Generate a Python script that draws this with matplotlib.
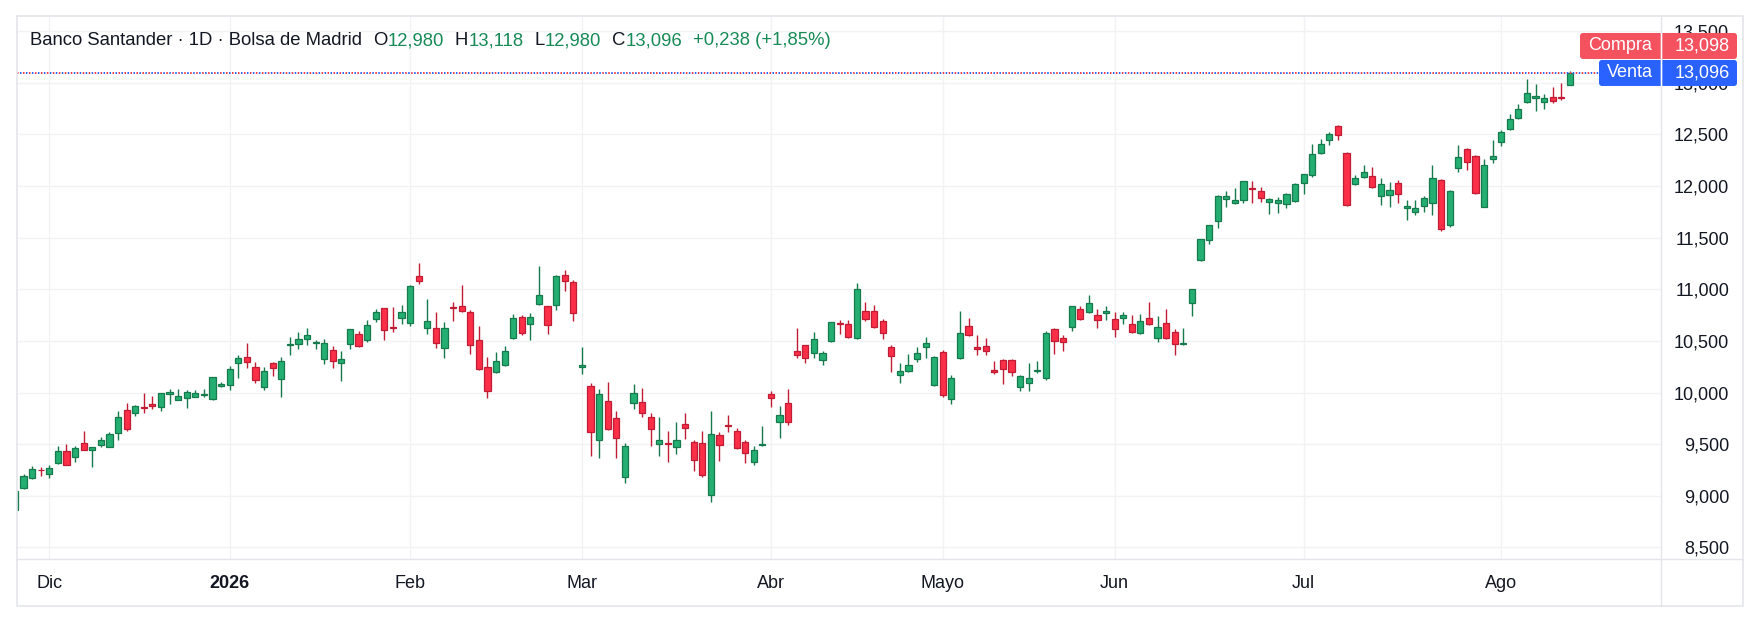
import matplotlib
matplotlib.use('Agg')
import matplotlib.pyplot as plt
from matplotlib.patches import FancyBboxPatch
import numpy as np

plt.rcParams['font.family'] = ['Liberation Sans', 'DejaVu Sans']
plt.rcParams['lines.scale_dashes'] = False

# ---------------- data (EUR, daily candles, 25 Nov 2025 -> 13 Aug 2026) ----------------
opens = [8.860, 9.078, 9.168, 9.252, 9.207, 9.320, 9.433, 9.378, 9.507, 9.440,
         9.494, 9.475, 9.604, 9.827, 9.805, 9.858, 9.885, 9.856, 9.982, 9.924,
         9.943, 9.953, 9.980, 9.934, 10.060, 10.070, 10.283, 10.341, 10.244, 10.050,
         10.282, 10.127, 10.457, 10.466, 10.515, 10.480, 10.321, 10.408, 10.282, 10.466,
         10.563, 10.505, 10.709, 10.815, 10.630, 10.718, 10.670, 11.125, 10.621, 10.621,
         10.428, 10.825, 10.835, 10.776, 10.505, 10.243, 10.195, 10.263, 10.524, 10.728,
         10.660, 10.854, 10.835, 10.844, 11.135, 11.067, 10.243, 10.059, 9.536, 9.914,
         9.749, 9.178, 9.895, 9.905, 9.760, 9.498, 9.510, 9.469, 9.692, 9.518,
         9.508, 9.004, 9.585, 9.683, 9.624, 9.518, 9.324, 9.495, 9.983, 9.711,
         9.895, 10.399, 10.457, 10.380, 10.312, 10.496, 10.669, 10.660, 10.525, 10.786,
         10.786, 10.689, 10.438, 10.166, 10.205, 10.321, 10.438, 10.069, 10.389, 9.934,
         10.331, 10.641, 10.438, 10.448, 10.215, 10.312, 10.312, 10.050, 10.089, 10.212,
         10.140, 10.612, 10.525, 10.631, 10.806, 10.777, 10.748, 10.767, 10.709, 10.719,
         10.661, 10.573, 10.719, 10.525, 10.670, 10.583, 10.474, 10.864, 11.281, 11.475,
         11.659, 11.872, 11.833, 11.862, 11.978, 11.949, 11.843, 11.833, 11.823, 11.852,
         12.027, 12.104, 12.318, 12.444, 12.579, 12.318, 12.017, 12.085, 12.095, 11.901,
         11.911, 12.027, 11.785, 11.746, 11.804, 11.833, 12.056, 11.620, 12.172, 12.356,
         12.288, 11.800, 12.259, 12.424, 12.550, 12.656, 12.811, 12.850, 12.811, 12.860,
         12.862, 12.980]
highs = [9.055, 9.210, 9.288, 9.275, 9.297, 9.482, 9.501, 9.482, 9.627, 9.470,
         9.569, 9.617, 9.821, 9.898, 9.879, 9.995, 9.966, 9.995, 10.031, 10.031,
         10.024, 10.024, 10.031, 10.150, 10.098, 10.257, 10.364, 10.480, 10.296, 10.243,
         10.292, 10.340, 10.537, 10.583, 10.625, 10.508, 10.518, 10.450, 10.402, 10.615,
         10.596, 10.702, 10.809, 10.818, 10.825, 10.844, 11.041, 11.251, 10.906, 10.776,
         10.680, 10.873, 11.038, 10.796, 10.644, 10.340, 10.389, 10.450, 10.757, 10.747,
         10.767, 11.222, 10.838, 11.135, 11.187, 11.087, 10.437, 10.088, 10.030, 10.098,
         9.817, 9.507, 10.083, 10.044, 9.799, 9.760, 9.624, 9.711, 9.799, 9.537,
         9.624, 9.818, 9.614, 9.779, 9.653, 9.537, 9.479, 9.673, 10.012, 9.866,
         10.031, 10.625, 10.460, 10.583, 10.399, 10.683, 10.702, 10.702, 11.058, 10.874,
         10.845, 10.709, 10.457, 10.282, 10.370, 10.438, 10.534, 10.350, 10.408, 10.166,
         10.786, 10.719, 10.554, 10.525, 10.302, 10.321, 10.321, 10.166, 10.282, 10.302,
         10.592, 10.622, 10.554, 10.838, 10.835, 10.942, 10.806, 10.835, 10.777, 10.777,
         10.748, 10.757, 10.874, 10.738, 10.806, 10.612, 10.622, 11.003, 11.487, 11.623,
         11.911, 11.949, 11.978, 12.049, 12.049, 11.991, 11.881, 11.891, 11.930, 12.027,
         12.117, 12.405, 12.453, 12.521, 12.589, 12.328, 12.104, 12.201, 12.182, 12.075,
         12.037, 12.056, 11.862, 11.862, 11.901, 12.201, 12.070, 11.960, 12.398, 12.366,
         12.298, 12.259, 12.443, 12.540, 12.695, 12.792, 13.034, 12.986, 12.889, 12.957,
         12.995, 13.118]
lows = [8.850, 9.068, 9.165, 9.194, 9.175, 9.307, 9.295, 9.327, 9.444, 9.278,
        9.475, 9.475, 9.543, 9.630, 9.775, 9.805, 9.843, 9.824, 9.892, 9.924,
        9.853, 9.953, 9.953, 9.930, 10.058, 10.028, 10.144, 10.241, 10.096, 10.027,
        10.163, 9.959, 10.366, 10.424, 10.457, 10.418, 10.273, 10.240, 10.114, 10.418,
        10.445, 10.486, 10.680, 10.512, 10.583, 10.667, 10.641, 11.048, 10.563, 10.428,
        10.331, 10.696, 10.784, 10.376, 10.222, 9.950, 10.185, 10.261, 10.522, 10.554,
        10.505, 10.852, 10.563, 10.796, 10.980, 10.689, 10.176, 9.388, 9.368, 9.640,
        9.368, 9.123, 9.844, 9.766, 9.485, 9.388, 9.330, 9.408, 9.553, 9.243,
        9.178, 8.943, 9.340, 9.614, 9.456, 9.321, 9.301, 9.479, 9.857, 9.563,
        9.682, 10.331, 10.283, 10.331, 10.264, 10.486, 10.564, 10.532, 10.515, 10.689,
        10.621, 10.515, 10.195, 10.089, 10.195, 10.292, 10.331, 10.066, 9.953, 9.885,
        10.328, 10.551, 10.360, 10.360, 10.176, 10.079, 10.157, 10.011, 10.011, 10.186,
        10.120, 10.376, 10.405, 10.593, 10.706, 10.774, 10.622, 10.699, 10.535, 10.661,
        10.580, 10.563, 10.651, 10.486, 10.522, 10.360, 10.457, 10.738, 11.278, 11.436,
        11.591, 11.794, 11.830, 11.833, 11.840, 11.843, 11.726, 11.736, 11.785, 11.850,
        11.920, 12.085, 12.315, 12.395, 12.444, 11.810, 12.007, 12.075, 11.985, 11.814,
        11.794, 11.833, 11.668, 11.717, 11.746, 11.717, 11.565, 11.600, 12.133, 12.152,
        11.927, 11.797, 12.220, 12.385, 12.547, 12.653, 12.808, 12.724, 12.744, 12.802,
        12.831, 12.980]
closes = [9.046, 9.191, 9.259, 9.246, 9.265, 9.433, 9.301, 9.459, 9.446, 9.469,
          9.536, 9.595, 9.759, 9.650, 9.866, 9.854, 9.866, 9.992, 10.002, 9.963,
          10.002, 9.992, 9.984, 10.147, 10.079, 10.225, 10.331, 10.293, 10.118, 10.205,
          10.234, 10.302, 10.470, 10.515, 10.554, 10.486, 10.476, 10.308, 10.321, 10.612,
          10.447, 10.650, 10.776, 10.602, 10.626, 10.776, 11.028, 11.077, 10.689, 10.476,
          10.621, 10.819, 10.786, 10.457, 10.224, 10.011, 10.302, 10.399, 10.718, 10.573,
          10.728, 10.941, 10.650, 11.125, 11.077, 10.767, 10.263, 9.614, 9.982, 9.643,
          9.555, 9.478, 9.999, 9.799, 9.644, 9.537, 9.506, 9.537, 9.653, 9.343,
          9.198, 9.595, 9.488, 9.680, 9.459, 9.411, 9.440, 9.500, 9.944, 9.779,
          9.711, 10.361, 10.331, 10.516, 10.380, 10.680, 10.663, 10.534, 11.000, 10.709,
          10.631, 10.573, 10.350, 10.205, 10.263, 10.379, 10.476, 10.341, 9.972, 10.137,
          10.573, 10.554, 10.418, 10.399, 10.195, 10.224, 10.195, 10.157, 10.137, 10.217,
          10.580, 10.496, 10.486, 10.835, 10.709, 10.864, 10.699, 10.786, 10.612, 10.748,
          10.583, 10.690, 10.661, 10.631, 10.525, 10.467, 10.480, 11.000, 11.484, 11.620,
          11.901, 11.901, 11.862, 12.046, 11.972, 11.881, 11.872, 11.862, 11.920, 12.017,
          12.114, 12.308, 12.405, 12.502, 12.492, 11.814, 12.075, 12.133, 11.988, 12.017,
          11.959, 11.920, 11.804, 11.785, 11.881, 12.075, 11.580, 11.949, 12.278, 12.230,
          11.930, 12.201, 12.288, 12.521, 12.647, 12.744, 12.899, 12.869, 12.850, 12.821,
          12.858, 13.096]

month_labels = ['Dic', '2026', 'Feb', 'Mar', 'Abr', 'Mayo', 'Jun', 'Jul', 'Ago']
month_index = [4, 25, 46, 66, 88, 108, 128, 150, 173]
price_ticks = [8.5, 9.0, 9.5, 10.0, 10.5, 11.0, 11.5, 12.0, 12.5, 13.0, 13.5]
symbol_title = 'Banco Santander · 1D · Bolsa de Madrid'
ask_price = 13.098   # Compra
bid_price = 13.096   # Venta

# ---------------- styling ----------------
UP_FILL, UP_EDGE = '#24ae72', '#167a4c'
DN_FILL, DN_EDGE = '#fb2f48', '#c01d35'
TXT = '#131722'
GREEN_TXT = '#188a56'
GRID = '#f2f2f4'
FRAME = '#e3e5ea'
FS = 13

W, H = 1760, 620
fig = plt.figure(figsize=(W / 100, H / 100), dpi=100, facecolor='white')

def fr(px_left, px_top, px_right, px_bottom):
    return [px_left / W, 1 - px_bottom / H, (px_right - px_left) / W, (px_bottom - px_top) / H]

ax = fig.add_axes(fr(17, 15.7, 1661, 559))
ax.set_facecolor('white')

o = np.array(opens); h = np.array(highs); l = np.array(lows); c = np.array(closes)
x = np.arange(len(o))
up = c >= o
body_lo = np.minimum(o, c)
body_h = np.maximum(np.abs(c - o), 0.008)

ax.vlines(x[up], l[up], h[up], color=UP_EDGE, lw=1.0, zorder=2)
ax.vlines(x[~up], l[~up], h[~up], color=DN_EDGE, lw=1.0, zorder=2)
ax.bar(x[up], body_h[up], bottom=body_lo[up], width=0.72, color=UP_FILL,
       edgecolor=UP_EDGE, linewidth=0.9, zorder=3)
ax.bar(x[~up], body_h[~up], bottom=body_lo[~up], width=0.72, color=DN_FILL,
       edgecolor=DN_EDGE, linewidth=0.9, zorder=3)

# bid / ask dotted lines
ax.axhline(ask_price, color='#f23645', lw=1.4, linestyle=(0, (1.1, 3.2)), zorder=4)
ax.axhline(bid_price, color='#2962ff', lw=1.4, linestyle=(2.16, (1.1, 3.2)), zorder=4)

ax.set_xlim(0.24, 191.6)
ax.set_ylim(8.387, 13.651)

ax.set_yticks(price_ticks)
ax.set_yticklabels([f'{v:,.3f}'.replace('.', ',') for v in price_ticks])
ax.yaxis.tick_right()
ax.tick_params(axis='y', length=0, pad=49, labelsize=FS, colors=TXT)
for lab in ax.get_yticklabels():
    lab.set_horizontalalignment('right')

ax.set_xticks(month_index)
ax.set_xticklabels(month_labels)
ax.tick_params(axis='x', length=0, pad=11.5, labelsize=FS, colors=TXT)
ax.get_xticklabels()[1].set_fontweight('bold')

ax.grid(True, color=GRID, lw=1.0, zorder=0)
ax.set_axisbelow(True)
for s in ax.spines.values():
    s.set_visible(False)

# ---------------- overlay (pixel coordinates) ----------------
ov = fig.add_axes([0, 0, 1, 1], zorder=10)
ov.set_xlim(0, W); ov.set_ylim(H, 0)
ov.axis('off'); ov.patch.set_alpha(0)

# frame
ov.plot([17, 1743, 1743, 17, 17], [15.7, 15.7, 606, 606, 15.7], color=FRAME, lw=1.2)
ov.plot([1661, 1661], [15.7, 606], color=FRAME, lw=1.0)
ov.plot([17, 1743], [559, 559], color=FRAME, lw=1.0)

# header
fig.canvas.draw()
rend = fig.canvas.get_renderer()
fmt = lambda v: f'{v:.3f}'.replace('.', ',')
chg = closes[-1] - closes[-2]
pct = chg / closes[-2] * 100
pieces = [(symbol_title, TXT, 0), ('O', TXT, 11), (fmt(opens[-1]), GREEN_TXT, 0),
          ('H', TXT, 11), (fmt(highs[-1]), GREEN_TXT, 0),
          ('L', TXT, 11), (fmt(lows[-1]), GREEN_TXT, 0),
          ('C', TXT, 11), (fmt(closes[-1]), GREEN_TXT, 0),
          (f'{chg:+.3f}'.replace('.', ',') + f' ({pct:+.2f}%)'.replace('.', ','), GREEN_TXT, 11)]
xcur = 30
for txt, col, gap in pieces:
    xcur += gap
    t = ov.text(xcur, 40.5, txt, color=col, fontsize=13.3, va='center', ha='left')
    bb = t.get_window_extent(renderer=rend)
    xcur += bb.width

# bid / ask labels on price scale
y_bid = H - ax.transData.transform((0, bid_price))[1]
box_h = 26
y_ask = y_bid - box_h - 1
for (label, val, col, x0, yc) in [('Compra', ask_price, '#f5525f', 1580, y_ask),
                                  ('Venta', bid_price, '#2962ff', 1599, y_bid)]:
    p = FancyBboxPatch((x0, yc - box_h / 2), 1737 - x0, box_h,
                       boxstyle='round,pad=0,rounding_size=3', fc=col, ec='none')
    ov.add_patch(p)
    ov.plot([1660.5, 1660.5], [yc - box_h / 2, yc + box_h / 2], color='white', lw=1.0)
    ov.text((x0 + 1660) / 2, yc, label, color='white', fontsize=FS, ha='center', va='center')
    ov.text(1730, yc, fmt(val), color='white', fontsize=FS, ha='right', va='center')

fig.savefig('out.png', dpi=100, facecolor='white')
